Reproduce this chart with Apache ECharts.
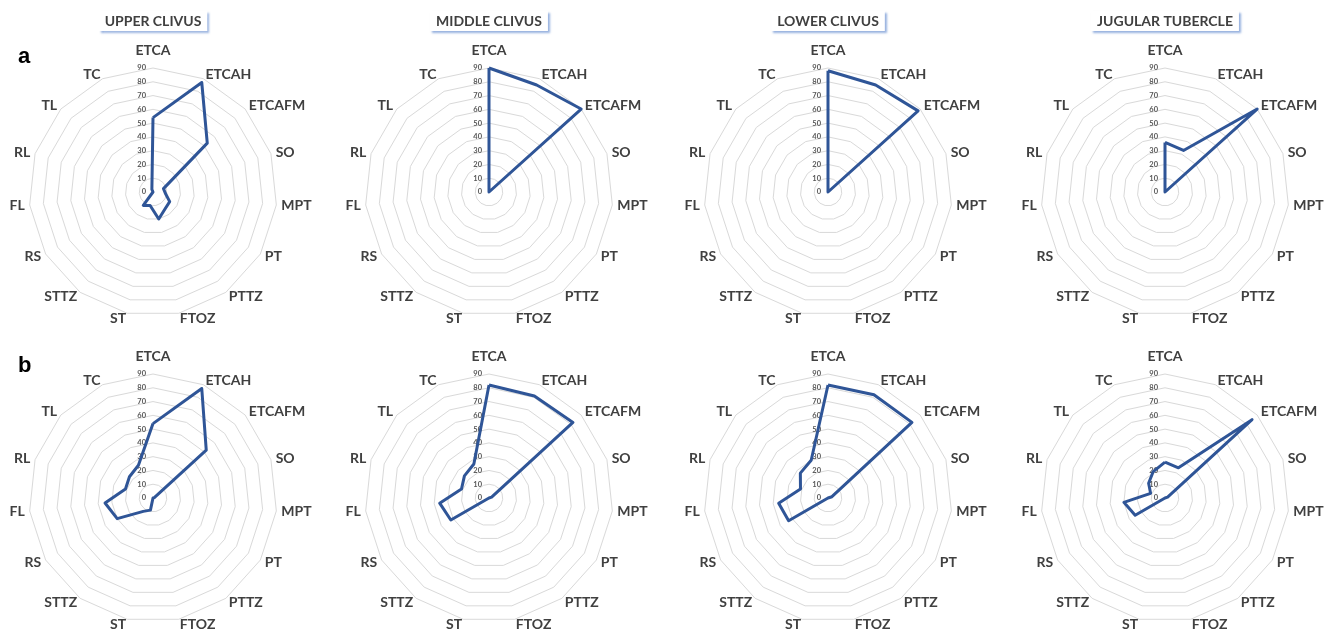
<!DOCTYPE html>
<html>
<head>
<meta charset="utf-8">
<script src="https://cdn.jsdelivr.net/npm/echarts@6/dist/echarts.min.js"></script>
<style>
  html, body { margin: 0; padding: 0; background: #fff; }
  #chart { width: 1333px; height: 631px; }
</style>
</head>
<body>
<div id="chart"></div>
<script>
// indicators, clockwise from the top
const axisNames = ["ETCA", "ETCAH", "ETCAFM", "SO", "MPT", "PT", "PTTZ", "FTOZ", "ST", "STTZ", "RS", "FL", "RL", "TL", "TC"];
const regions = ["UPPER CLIVUS", "MIDDLE CLIVUS", "LOWER CLIVUS", "JUGULAR TUBERCLE"];
const rowLetters = ["a", "b"];
const maxValue = 90;

// row a
const upperA = [54, 87, 53, 8, 9, 14, 15, 20, 10, 12, 0, 0, 0, 0, 2];
const middleA = [90, 85, 90, 0, 0, 0, 0, 0, 0, 0, 0, 0, 0, 0, 0];
const lowerA = [88, 85, 88, 0, 0, 0, 0, 0, 0, 0, 0, 0, 0, 0, 0];
const jugularA = [36, 33, 90, 0, 0, 0, 0, 0, 0, 0, 0, 0, 0, 0, 0];

// row b
const upperB = [54, 87, 52, 1, 0, 0, 0, 0, 9, 12, 30, 35, 21, 23, 26];
const middleB = [82, 81, 82, 2, 0, 0, 0, 0, 0, 0, 32, 36, 21, 24, 27];
const lowerB = [82, 82, 82, 3, 0, 0, 0, 0, 0, 0, 33, 36, 21, 27, 30];
const jugularB = [26, 24, 85, 2, 0, 0, 0, 0, 0, 0, 25, 30, 11, 16, 21];

const rows = [
  [upperA, middleA, lowerA, jugularA],
  [upperB, middleB, lowerB, jugularB],
];

const colX = [153, 489, 828, 1165];
const rowY = [192, 498];
const radius = 124;

const lineColor = "#2f5597";
const textColor = "#404040";

// echarts lays indicators out counter-clockwise, so flip all but the first
const toCcw = (arr) => [arr[0], ...arr.slice(1).reverse()];

const radars = [];
const series = [];
rows.forEach((row, r) => {
  row.forEach((values, c) => {
    const idx = radars.length;
    radars.push({
      center: [colX[c], rowY[r]],
      radius: radius,
      startAngle: 90,
      shape: "polygon",
      splitNumber: 9,
      nameGap: 5,
      axisName: {
        color: textColor,
        fontFamily: "Lato",
        fontWeight: "bold",
        fontSize: 14,
      },
      indicator: toCcw(axisNames).map((name, i) => {
        const ind = { name: name, min: 0, max: maxValue };
        if (i === 0) {
          // only the top axis carries the 0-90 scale
          ind.nameGap = 11;
          ind.axisLabel = {
            show: true,
            color: "#595959",
            fontSize: 7.5,
            fontFamily: "Lato",
            fontWeight: "bold",
            margin: 7,
          };
        }
        return ind;
      }),
      axisLabel: { show: false },
      axisLine: { show: false },
      axisTick: { show: false },
      splitArea: { show: false },
      splitLine: { lineStyle: { color: "#d9d9d9", width: 1 } },
    });
    series.push({
      type: "radar",
      radarIndex: idx,
      symbol: "none",
      silent: true,
      animation: false,
      lineStyle: { color: lineColor, width: 3 },
      data: [{ value: toCcw(values) }],
    });
  });
});

const titles = regions.map((text, c) => ({
  text: text,
  left: colX[c] - 6,
  top: 11,
  textAlign: "center",
  padding: [3, 6, 3, 6],
  backgroundColor: "#fff",
  shadowColor: "rgba(68,114,196,0.55)",
  shadowBlur: 2,
  shadowOffsetX: 2,
  shadowOffsetY: 2,
  textStyle: {
    color: textColor,
    fontFamily: "Lato",
    fontWeight: "bold",
    fontSize: 14,
  },
}));
rowLetters.forEach((letter, r) => {
  titles.push({
    text: letter,
    left: 18,
    top: r === 0 ? 46 : 355,
    padding: 0,
    textStyle: {
      color: "#000",
      fontFamily: "Liberation Sans",
      fontWeight: "bold",
      fontSize: 22,
    },
  });
});

const chart = echarts.init(document.getElementById("chart"));
chart.setOption({
  backgroundColor: "#fff",
  animation: false,
  title: titles,
  radar: radars,
  series: series,
});
</script>
</body>
</html>
